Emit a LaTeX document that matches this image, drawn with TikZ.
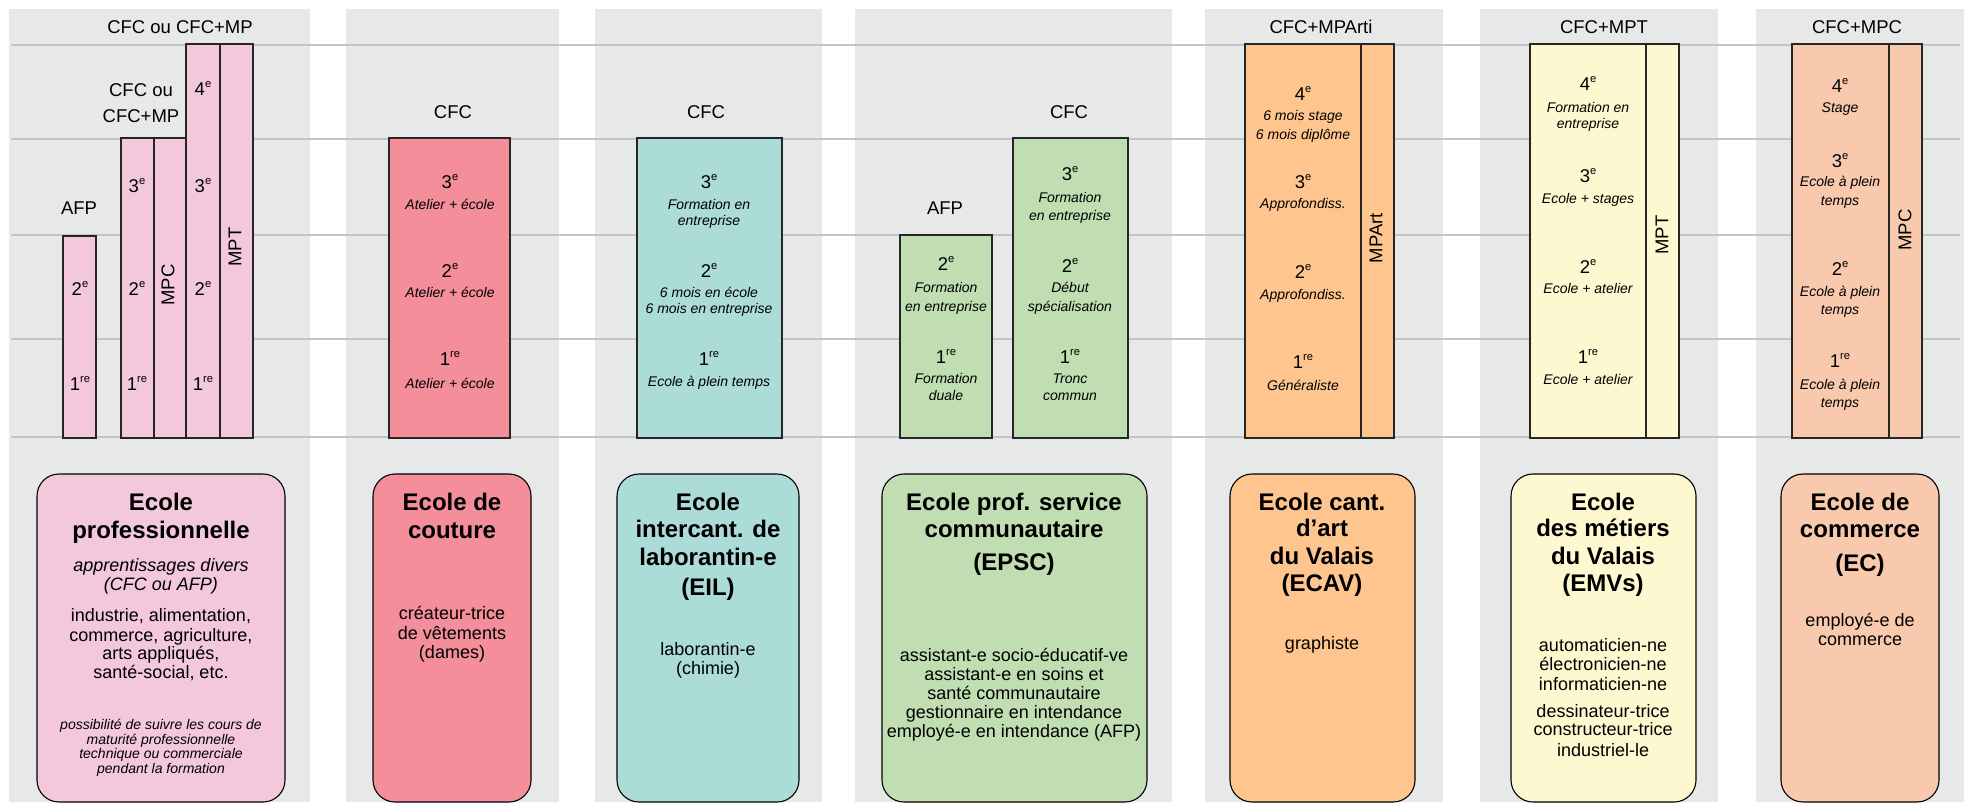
\documentclass[tikz,border=0pt]{standalone}
\usepackage{fontspec}
\setmainfont{Liberation Sans}
\definecolor{panelgray}{RGB}{231,232,232}
\definecolor{gridgray}{RGB}{196,196,196}
\definecolor{pinkA}{RGB}{243,200,219}
\definecolor{redB}{RGB}{243,142,154}
\definecolor{tealC}{RGB}{172,220,215}
\definecolor{greenD}{RGB}{192,222,178}
\definecolor{orangeE}{RGB}{254,198,142}
\definecolor{yellowF}{RGB}{254,248,208}
\definecolor{salmonG}{RGB}{249,201,174}
\newcounter{nn}
\newcommand\yrsup[1]{\raisebox{0.42em}{\fontsize{5.6}{6}\selectfont #1}}
\newcommand\mkn[3]{\stepcounter{nn}\node[#1] (n\arabic{nn}) at (#2) {#3};}
\newcommand\lbl[2]{\mkn{lab}{#1}{#2}}
\newcommand\yrl[3]{\mkn{lab}{#1}{#2\yrsup{#3}}}
\newcommand\dsc[2]{\mkn{desc}{#1}{#2}}
\newcommand\rot[2]{\mkn{lab,rotate=90}{#1}{#2}}
\newcommand\hdg[2]{\mkn{head}{#1}{#2}}
\newcommand\bdy[2]{\mkn{body}{#1}{#2}}
\newcommand\itl[2]{\mkn{body,font=\fontsize{9}{10}\selectfont\itshape}{#1}{#2}}
\newcommand\smi[2]{\mkn{desc}{#1}{#2}}
\begin{document}
\begin{tikzpicture}[x=0.5pt,y=-0.5pt,
  lab/.style={font=\fontsize{9.25}{11}\selectfont, anchor=mid, inner sep=0pt},
  desc/.style={font=\fontsize{7}{8}\selectfont\itshape, anchor=mid, inner sep=0pt},
  head/.style={font=\fontsize{12}{14}\selectfont\bfseries, anchor=mid, inner sep=0pt},
  body/.style={font=\fontsize{9}{10}\selectfont, anchor=mid, inner sep=0pt},
  panel/.style={fill=panelgray},
  gridline/.style={draw=gridgray, line width=0.75pt},
  bar/.style={draw=black!85, line width=0.6pt},
  schoolbox/.style={draw=black, line width=0.55pt, rounded corners=11pt}]
\useasboundingbox (0,0) rectangle (1968,811);
\fill[white] (0,0) rectangle (1968,811);
% panels
\fill[panel] (9,9) rectangle (310,802);
\fill[panel] (346,9) rectangle (559,802);
\fill[panel] (595,9) rectangle (822,802);
\fill[panel] (855,9) rectangle (1172,802);
\fill[panel] (1205,9) rectangle (1443,802);
\fill[panel] (1480,9) rectangle (1718,802);
\fill[panel] (1756,9) rectangle (1964,802);
% grid
\foreach \yy in {45,139,235,339,437} \draw[gridline] (11,\yy) -- (1960,\yy);
% bars
\draw[bar,fill=pinkA] (63,236) rectangle (96,438);
\draw[bar,fill=pinkA] (121,138) rectangle (154,438);
\draw[bar,fill=pinkA] (154,138) rectangle (186,438);
\draw[bar,fill=pinkA] (186,44) rectangle (220,438);
\draw[bar,fill=pinkA] (220,44) rectangle (253,438);
\draw[bar,fill=redB] (389,138) rectangle (510,438);
\draw[bar,fill=tealC] (637,138) rectangle (782,438);
\draw[bar,fill=greenD] (900,235) rectangle (992,438);
\draw[bar,fill=greenD] (1013,138) rectangle (1128,438);
\draw[bar,fill=orangeE] (1245,44) rectangle (1361,438);
\draw[bar,fill=orangeE] (1361,44) rectangle (1394,438);
\draw[bar,fill=yellowF] (1530,44) rectangle (1646,438);
\draw[bar,fill=yellowF] (1646,44) rectangle (1679,438);
\draw[bar,fill=salmonG] (1792,44) rectangle (1889,438);
\draw[bar,fill=salmonG] (1889,44) rectangle (1922,438);
% school boxes
\draw[schoolbox,fill=pinkA] (37,474) rectangle (285,802);
\draw[schoolbox,fill=redB] (373,474) rectangle (531,802);
\draw[schoolbox,fill=tealC] (617,474) rectangle (799,802);
\draw[schoolbox,fill=greenD] (882,474) rectangle (1147,802);
\draw[schoolbox,fill=orangeE] (1230,474) rectangle (1415,802);
\draw[schoolbox,fill=yellowF] (1511,474) rectangle (1696,802);
\draw[schoolbox,fill=salmonG] (1781,474) rectangle (1939,802);
% top labels
\lbl{180,28}{CFC ou CFC+MP}
\lbl{141,91}{CFC ou}
\lbl{141,117}{CFC+MP}
\lbl{79,209}{AFP}
\lbl{453,113}{CFC}
\lbl{706,113}{CFC}
\lbl{945,209}{AFP}
\lbl{1069,113}{CFC}
\lbl{1321,28}{CFC+MPArti}
\lbl{1604,28}{CFC+MPT}
\lbl{1857,28}{CFC+MPC}
% panel 1 years
\yrl{80,290}{2}{e}
\yrl{80,385}{1}{re}
\yrl{137,187}{3}{e}
\yrl{137,290}{2}{e}
\yrl{137,385}{1}{re}
\yrl{203,90}{4}{e}
\yrl{203,187}{3}{e}
\yrl{203,290}{2}{e}
\yrl{203,385}{1}{re}
\rot{169,285}{MPC}
\rot{236,247}{MPT}
% panel 2
\yrl{450,183}{3}{e}
\dsc{450,204}{Atelier + école}
\yrl{450,272}{2}{e}
\dsc{450,292}{Atelier + école}
\yrl{450,360}{1}{re}
\dsc{450,383}{Atelier + école}
% panel 3
\yrl{709,183}{3}{e}
\dsc{709,204}{Formation en}
\dsc{709,220}{entreprise}
\yrl{709,272}{2}{e}
\dsc{709,292}{6 mois en école}
\dsc{709,308}{6 mois en entreprise}
\yrl{709,360}{1}{re}
\dsc{709,381}{Ecole à plein temps}
% panel 4
\yrl{946,265}{2}{e}
\dsc{946,287}{Formation}
\dsc{946,306}{en entreprise}
\yrl{946,358}{1}{re}
\dsc{946,378}{Formation}
\dsc{946,395}{duale}
\yrl{1070,175}{3}{e}
\dsc{1070,197}{Formation}
\dsc{1070,215}{en entreprise}
\yrl{1070,267}{2}{e}
\dsc{1070,287}{Début}
\dsc{1070,306}{spécialisation}
\yrl{1070,358}{1}{re}
\dsc{1070,378}{Tronc}
\dsc{1070,395}{commun}
% panel 5
\yrl{1303,95}{4}{e}
\dsc{1303,115}{6 mois stage}
\dsc{1303,134}{6 mois diplôme}
\yrl{1303,183}{3}{e}
\dsc{1303,203}{Approfondiss.}
\yrl{1303,273}{2}{e}
\dsc{1303,294}{Approfondiss.}
\yrl{1303,363}{1}{re}
\dsc{1303,385}{Généraliste}
\rot{1377,238}{MPArt}
% panel 6
\yrl{1588,85}{4}{e}
\dsc{1588,107}{Formation en}
\dsc{1588,123}{entreprise}
\yrl{1588,177}{3}{e}
\dsc{1588,198}{Ecole + stages}
\yrl{1588,268}{2}{e}
\dsc{1588,288}{Ecole + atelier}
\yrl{1588,358}{1}{re}
\dsc{1588,379}{Ecole + atelier}
\rot{1663,235}{MPT}
% panel 7
\yrl{1840,87}{4}{e}
\dsc{1840,107}{Stage}
\yrl{1840,162}{3}{e}
\dsc{1840,181}{Ecole à plein}
\dsc{1840,200}{temps}
\yrl{1840,270}{2}{e}
\dsc{1840,291}{Ecole à plein}
\dsc{1840,309}{temps}
\yrl{1840,362}{1}{re}
\dsc{1840,384}{Ecole à plein}
\dsc{1840,402}{temps}
\rot{1906,230}{MPC}
% box texts
\hdg{161,505}{Ecole}
\hdg{161,533}{professionnelle}
\itl{161,566}{apprentissages divers}
\itl{161,585}{(CFC ou AFP)}
\bdy{161,616}{industrie, alimentation,}
\bdy{161,636}{commerce, agriculture,}
\bdy{161,654}{arts appliqués,}
\bdy{161,673}{santé-social, etc.}
\smi{161,724}{possibilité de suivre les cours de}
\smi{161,739}{maturité professionnelle}
\smi{161,753}{technique ou commerciale}
\smi{161,768}{pendant la formation}
%
\hdg{452,505}{Ecole de}
\hdg{452,533}{couture}
\bdy{452,614}{créateur-trice}
\bdy{452,634}{de vêtements}
\bdy{452,653}{(dames)}
%
\hdg{708,505}{Ecole}
\hdg{708,532}{intercant. de}
\hdg{708,560}{laborantin-e}
\hdg{708,590}{(EIL)}
\bdy{708,650}{laborantin-e}
\bdy{708,669}{(chimie)}
%
\hdg{1014,505}{Ecole prof. service}
\hdg{1014,532}{communautaire}
\hdg{1014,565}{(EPSC)}
\bdy{1014,656}{assistant-e socio-éducatif-ve}
\bdy{1014,675}{assistant-e en soins et}
\bdy{1014,694}{santé communautaire}
\bdy{1014,713}{gestionnaire en intendance}
\bdy{1014,732}{employé-e en intendance (AFP)}
%
\hdg{1322,505}{Ecole cant.}
\hdg{1322,531}{d’art}
\hdg{1322,559}{du Valais}
\hdg{1322,586}{(ECAV)}
\bdy{1322,644}{graphiste}
%
\hdg{1603,505}{Ecole}
\hdg{1603,531}{des métiers}
\hdg{1603,559}{du Valais}
\hdg{1603,586}{(EMVs)}
\bdy{1603,646}{automaticien-ne}
\bdy{1603,665}{électronicien-ne}
\bdy{1603,685}{informaticien-ne}
\bdy{1603,712}{dessinateur-trice}
\bdy{1603,730}{constructeur-trice}
\bdy{1603,751}{industriel-le}
%
\hdg{1860,505}{Ecole de}
\hdg{1860,532}{commerce}
\hdg{1860,566}{(EC)}
\bdy{1860,621}{employé-e de}
\bdy{1860,640}{commerce}
\end{tikzpicture}
\end{document}
